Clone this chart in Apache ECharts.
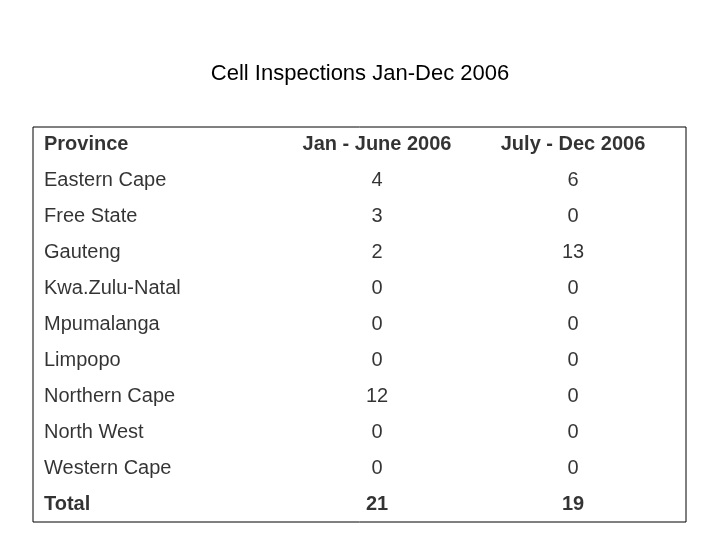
<!DOCTYPE html>
<html>
<head>
<meta charset="utf-8">
<script src="https://cdn.jsdelivr.net/npm/echarts@6/dist/echarts.min.js"></script>
<style>html,body{margin:0;background:#fff}#main{width:720px;height:540px}</style>
</head>
<body>
<div id="main"></div>
<script>
const headers = ['Province', 'Jan - June 2006', 'July - Dec 2006'];
const provinces = ['Eastern Cape', 'Free State', 'Gauteng', 'Kwa.Zulu-Natal', 'Mpumalanga',
    'Limpopo', 'Northern Cape', 'North West', 'Western Cape'];
const janJune = [4, 3, 2, 0, 0, 0, 12, 0, 0];
const julyDec = [6, 0, 13, 0, 0, 0, 0, 0, 0];
const totals = ['Total', 21, 19];

// layout of the columns (x offsets inside the table box)
const colX = [11, 344, 540];
const colAlign = ['left', 'center', 'center'];

var chartDom = document.getElementById('main');
var myChart = echarts.init(chartDom);

const rows = [headers];
provinces.forEach((p, i) => rows.push([p, janJune[i], julyDec[i]]));
rows.push(totals);

const data = [];
rows.forEach((r, ri) => {
    r.forEach((v, ci) => {
        const bold = ri === 0 || ri === rows.length - 1;
        data.push({
            value: [colX[ci], ri],
            label: {
                formatter: String(v),
                align: colAlign[ci],
                color: '#000',
                fontWeight: bold ? 'bold' : 'normal'
            }
        });
    });
});

var option = {
    animation: false,
    title: {
        text: 'Cell Inspections Jan-Dec 2006',
        left: 'center',
        top: 58,
        textStyle: { fontFamily: 'Liberation Sans', fontSize: 22, fontWeight: 'normal', color: '#000' }
    },
    graphic: [{
        type: 'rect',
        shape: { x: 33, y: 127, width: 653, height: 395 },
        style: { fill: 'none', stroke: '#000', lineWidth: 1 }
    }],
    grid: { left: 33, right: 34, top: 127, bottom: 18 },
    xAxis: { type: 'value', min: 0, max: 653, show: false },
    yAxis: {
        type: 'category',
        inverse: true,
        data: rows.map((r, i) => i),
        show: false
    },
    series: [{
        type: 'scatter',
        symbolSize: 0,
        data: data,
        label: {
            show: true,
            position: 'inside',
            verticalAlign: 'middle',
            fontFamily: 'Liberation Sans',
            fontSize: 20,
            color: '#000'
        }
    }]
};

option && myChart.setOption(option);
</script>
</body>
</html>
